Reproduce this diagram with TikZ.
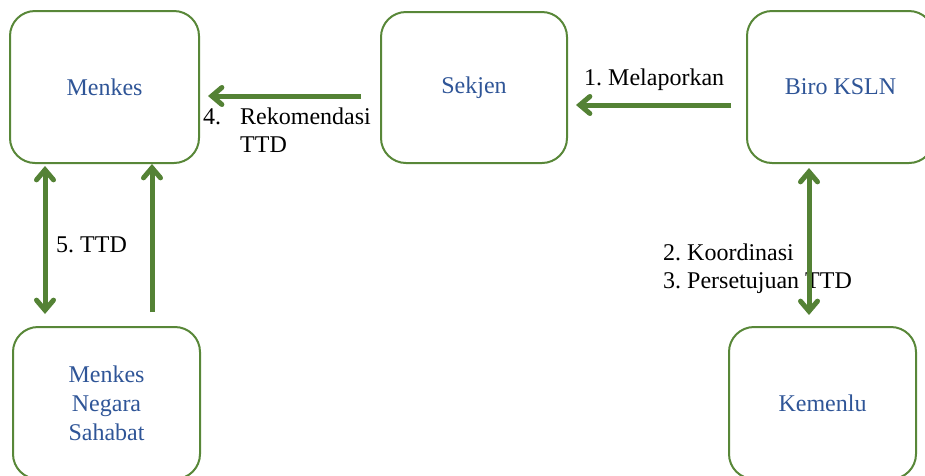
\documentclass[tikz,border=0pt]{standalone}
\usepackage{fontspec}
\setmainfont{Liberation Serif}
\usetikzlibrary{arrows.meta,calc}
\definecolor{boxgreen}{RGB}{88,135,56}
\definecolor{arrgreen}{RGB}{84,130,53}
\definecolor{txtblue}{RGB}{47,85,151}
\frenchspacing
\begin{document}
\begin{tikzpicture}[x=1pt,y=-1pt,
  box/.style={draw=boxgreen,line width=2pt,rounded corners=25pt,minimum width=187pt,minimum height=152pt,
    align=center,text=txtblue,font=\fontsize{24}{29}\selectfont,inner sep=0pt},
  lbl/.style={anchor=base west,inner sep=0pt,font=\fontsize{24}{29}\selectfont,text=black},
  arr/.style={draw=arrgreen,line width=5pt,-{Straight Barb[length=10pt,width=17pt,line cap=round]}},
  darr/.style={draw=arrgreen,line width=5pt,{Straight Barb[length=10pt,width=17pt,line cap=round]}-{Straight Barb[length=10pt,width=17pt,line cap=round]}}]
\useasboundingbox (0,0) rectangle (925,475);
\begin{scope}
\clip (0,0) rectangle (925,475);
\node[box,minimum width=189pt] (menkes) at (104.5,87) {Menkes};
\node[box,minimum width=186pt,minimum height=151pt] (sekjen) at (474,87.5) {Sekjen};
\node[box] (biro) at (840.5,87) {Biro KSLN};
\node[box] (mns) at (106.5,403) {Menkes\\Negara\\Sahabat};
\node[box] (kemenlu) at (822.5,403) {Kemenlu};

\node[lbl] (l1) at (584,85) {1. Melaporkan};
\node[lbl] (l4a) at (203,124) {4.};
\node[lbl] (l4b) at (240,124) {Rekomendasi};
\node[lbl] (l4c) at (240,152) {TTD};
\node[lbl] (l5) at (56,252) {5. TTD};
\node[lbl] (l2) at (663,260) {2. Koordinasi};
\node[lbl] (l3) at (663,288) {3. Persetujuan TTD};

\draw[arr] ($(sekjen.west)+(-19,8.5)$) -- ($(menkes.east)+(8,9)$);
\draw[arr] ($(biro.west)+(-15,18)$) -- ($(sekjen.east)+(8,17.5)$);
\draw[darr] ($(menkes.south)+(-59.5,2)$) -- ($(mns.north)+(-61.5,-12)$);
\draw[arr] ($(mns.north)+(45.5,-14)$) -- ($(menkes.south)+(47.5,0)$);
\draw[darr] ($(biro.south)+(-31.5,4)$) -- ($(kemenlu.north)+(-13.5,-11)$);
\end{scope}
\end{tikzpicture}
\end{document}
